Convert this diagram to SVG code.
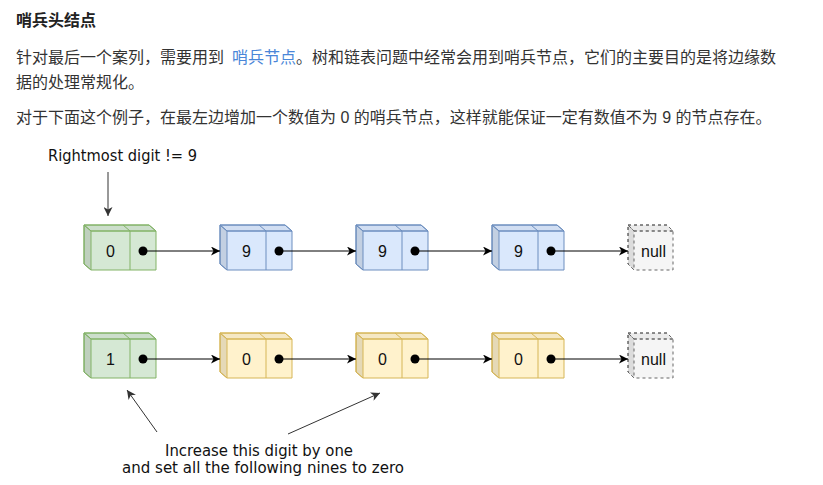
<svg xmlns="http://www.w3.org/2000/svg" width="823" height="485" viewBox="0 0 823 485">
<style>
.doc{font-family:"Liberation Sans","Noto Sans CJK SC",sans-serif;font-size:16px;fill:#333}
.h{font-weight:bold;fill:#222}
.link{fill:#4a86d8}
.note{font-family:"DejaVu Sans","Liberation Sans",sans-serif;font-size:15px;fill:#111}
.val{font-family:"Liberation Sans",Arial,sans-serif;font-size:16px;fill:#111;text-anchor:middle}
.sh1{fill:#000;fill-opacity:0.1}
.sh2{fill:#000;fill-opacity:0.04}
.green .body{fill:#d5e8d4}
.blue .body{fill:#dae8fc}
.yellow .body{fill:#fff2cc}
.grey .body{fill:#f5f5f5}
.green path{stroke:#82b366}
.blue path{stroke:#6c8ebf}
.yellow path{stroke:#d6b656}
.grey path{stroke:#666;stroke-dasharray:3 3}
.ln{fill:none}
path{stroke-width:1}
.dot{fill:#000}
.con{stroke:#000;stroke-width:1;fill:none}
.ann{stroke:#333;stroke-width:1;fill:none}
</style>
<defs>
<marker id="ah" markerUnits="userSpaceOnUse" markerWidth="10" markerHeight="9" refX="9" refY="4.5" orient="auto">
<path d="M0,0 L9,4.5 L0,9 L2.5,4.5 Z" fill="#000" stroke="none"/>
</marker>
<marker id="ah2" markerUnits="userSpaceOnUse" markerWidth="10" markerHeight="9" refX="9" refY="4.5" orient="auto">
<path d="M0,0 L9,4.5 L0,9 L2.5,4.5 Z" fill="#333" stroke="none"/>
</marker>
</defs>

<g id="text-block">
<text class="doc h" x="16" y="26">哨兵头结点</text>
<text class="doc" x="16" y="63">针对最后一个案列，需要用到<tspan class="link" x="232">哨兵节点</tspan><tspan x="296">。树和链表问题中经常会用到哨兵节点，它们的主要目的是将边缘数</tspan></text>
<text class="doc" x="16" y="88">据的处理常规化。</text>
<text class="doc" x="16" y="123">对于下面这个例子，在最左边增加一个数值为 0 的哨兵节点，这样就能保证一定有数值不为 9 的节点存在。</text>
</g>

<g id="labels">
<text class="note" x="48" y="161" textLength="149" lengthAdjust="spacingAndGlyphs">Rightmost digit != 9</text>
<text class="note" x="165" y="456" textLength="188" lengthAdjust="spacingAndGlyphs">Increase this digit by one</text>
<text class="note" x="122" y="473" textLength="282" lengthAdjust="spacingAndGlyphs">and set all the following nines to zero</text>
</g>

<!-- row 1 -->
<g id="r1n1" class="green" transform="translate(84,225)">
<path class="body" d="M0,0 H65 L72,6 V45 H7 L0,39 Z"/>
<path class="sh1" d="M0,0 L7,6 V45 L0,39 Z"/>
<path class="sh2" d="M0,0 H65 L72,6 H7 Z"/>
<path class="ln" d="M7,6 H72 M39,0 L46,6 V45"/>
<text class="val" x="26.5" y="31.5">0</text>
<circle class="dot" cx="59" cy="26" r="4.5"/>
</g>
<g id="r1n2" class="blue" transform="translate(220,225)">
<path class="body" d="M0,0 H65 L72,6 V45 H7 L0,39 Z"/>
<path class="sh1" d="M0,0 L7,6 V45 L0,39 Z"/>
<path class="sh2" d="M0,0 H65 L72,6 H7 Z"/>
<path class="ln" d="M7,6 H72 M39,0 L46,6 V45"/>
<text class="val" x="26.5" y="31.5">9</text>
<circle class="dot" cx="59" cy="26" r="4.5"/>
</g>
<g id="r1n3" class="blue" transform="translate(356,225)">
<path class="body" d="M0,0 H65 L72,6 V45 H7 L0,39 Z"/>
<path class="sh1" d="M0,0 L7,6 V45 L0,39 Z"/>
<path class="sh2" d="M0,0 H65 L72,6 H7 Z"/>
<path class="ln" d="M7,6 H72 M39,0 L46,6 V45"/>
<text class="val" x="26.5" y="31.5">9</text>
<circle class="dot" cx="59" cy="26" r="4.5"/>
</g>
<g id="r1n4" class="blue" transform="translate(492,225)">
<path class="body" d="M0,0 H65 L72,6 V45 H7 L0,39 Z"/>
<path class="sh1" d="M0,0 L7,6 V45 L0,39 Z"/>
<path class="sh2" d="M0,0 H65 L72,6 H7 Z"/>
<path class="ln" d="M7,6 H72 M39,0 L46,6 V45"/>
<text class="val" x="26.5" y="31.5">9</text>
<circle class="dot" cx="59" cy="26" r="4.5"/>
</g>
<g id="r1null" class="grey" transform="translate(628,225)">
<path class="body" d="M0,0 H39 L45,6 V45 H6 L0,39 Z"/>
<path class="sh1" d="M0,0 L6,6 V45 L0,39 Z"/>
<path class="sh2" d="M0,0 H39 L45,6 H6 Z"/>
<path class="ln" d="M6,6 H45"/>
<text class="val" x="25.5" y="32">null</text>
</g>

<!-- row 2 -->
<g id="r2n1" class="green" transform="translate(84,333)">
<path class="body" d="M0,0 H65 L72,6 V45 H7 L0,39 Z"/>
<path class="sh1" d="M0,0 L7,6 V45 L0,39 Z"/>
<path class="sh2" d="M0,0 H65 L72,6 H7 Z"/>
<path class="ln" d="M7,6 H72 M39,0 L46,6 V45"/>
<text class="val" x="26.5" y="31.5">1</text>
<circle class="dot" cx="59" cy="26" r="4.5"/>
</g>
<g id="r2n2" class="yellow" transform="translate(220,333)">
<path class="body" d="M0,0 H65 L72,6 V45 H7 L0,39 Z"/>
<path class="sh1" d="M0,0 L7,6 V45 L0,39 Z"/>
<path class="sh2" d="M0,0 H65 L72,6 H7 Z"/>
<path class="ln" d="M7,6 H72 M39,0 L46,6 V45"/>
<text class="val" x="26.5" y="31.5">0</text>
<circle class="dot" cx="59" cy="26" r="4.5"/>
</g>
<g id="r2n3" class="yellow" transform="translate(356,333)">
<path class="body" d="M0,0 H65 L72,6 V45 H7 L0,39 Z"/>
<path class="sh1" d="M0,0 L7,6 V45 L0,39 Z"/>
<path class="sh2" d="M0,0 H65 L72,6 H7 Z"/>
<path class="ln" d="M7,6 H72 M39,0 L46,6 V45"/>
<text class="val" x="26.5" y="31.5">0</text>
<circle class="dot" cx="59" cy="26" r="4.5"/>
</g>
<g id="r2n4" class="yellow" transform="translate(492,333)">
<path class="body" d="M0,0 H65 L72,6 V45 H7 L0,39 Z"/>
<path class="sh1" d="M0,0 L7,6 V45 L0,39 Z"/>
<path class="sh2" d="M0,0 H65 L72,6 H7 Z"/>
<path class="ln" d="M7,6 H72 M39,0 L46,6 V45"/>
<text class="val" x="26.5" y="31.5">0</text>
<circle class="dot" cx="59" cy="26" r="4.5"/>
</g>
<g id="r2null" class="grey" transform="translate(628,333)">
<path class="body" d="M0,0 H39 L45,6 V45 H6 L0,39 Z"/>
<path class="sh1" d="M0,0 L6,6 V45 L0,39 Z"/>
<path class="sh2" d="M0,0 H39 L45,6 H6 Z"/>
<path class="ln" d="M6,6 H45"/>
<text class="val" x="25.5" y="32">null</text>
</g>

<g id="connectors">
<line class="con" x1="143" y1="251" x2="220" y2="251" marker-end="url(#ah)"/>
<line class="con" x1="279" y1="251" x2="356" y2="251" marker-end="url(#ah)"/>
<line class="con" x1="415" y1="251" x2="492" y2="251" marker-end="url(#ah)"/>
<line class="con" x1="551" y1="251" x2="628" y2="251" marker-end="url(#ah)"/>
<line class="con" x1="143" y1="359" x2="220" y2="359" marker-end="url(#ah)"/>
<line class="con" x1="279" y1="359" x2="356" y2="359" marker-end="url(#ah)"/>
<line class="con" x1="415" y1="359" x2="492" y2="359" marker-end="url(#ah)"/>
<line class="con" x1="551" y1="359" x2="628" y2="359" marker-end="url(#ah)"/>
<line class="ann" x1="108" y1="172" x2="108" y2="216" marker-end="url(#ah2)"/>
<line class="ann" x1="157" y1="432" x2="127" y2="390" marker-end="url(#ah2)"/>
<line class="ann" x1="288" y1="434" x2="380" y2="393" marker-end="url(#ah2)"/>
</g>
</svg>
